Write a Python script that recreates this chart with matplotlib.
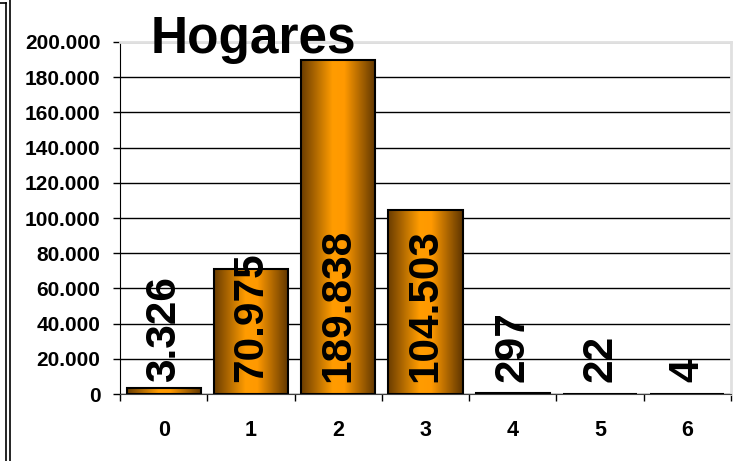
import numpy as np
import matplotlib
matplotlib.use("Agg")
import matplotlib.pyplot as plt
from matplotlib.lines import Line2D
from matplotlib.colors import LinearSegmentedColormap
from matplotlib.ticker import FuncFormatter, FixedLocator

categories = ["0", "1", "2", "3", "4", "5", "6"]
hogares = [3326, 70975, 189838, 104503, 297, 22, 4]
value_labels = ["3.326", "70.975", "189.838", "104.503", "297", "22", "4"]

plt.rcParams["font.family"] = ["Liberation Sans", "DejaVu Sans"]
plt.rcParams["font.weight"] = "bold"

fig = plt.figure(figsize=(7.45, 4.61), dpi=100)
ax = fig.add_axes([120 / 745, 1 - 394 / 461, 611 / 745, 352 / 461])

x = np.arange(len(categories))
bars = ax.bar(x, hogares, width=0.85, facecolor="none", edgecolor="black",
              linewidth=1.5, zorder=3)

# horizontal gradient inside each bar, dark edges -> orange middle
cmap = LinearSegmentedColormap.from_list(
    "bar", [(0, "#6a3c00"), (0.42, "#ff9c00"), (0.58, "#ff9900"), (1, "#5e3500")])
grad = np.linspace(0, 1, 256).reshape(1, -1)
for b in bars:
    x0, w, h = b.get_x(), b.get_width(), b.get_height()
    im = ax.imshow(grad, cmap=cmap, aspect="auto", extent=[x0, x0 + w, 0, h],
                   zorder=2.5, interpolation="bilinear")
    im.set_clip_path(b)

for xi, lab in zip(x, value_labels):
    ax.annotate(lab, (xi, 0), xytext=(0, 8.5), textcoords="offset points",
                rotation=90, ha="center", va="bottom", fontsize=30.5,
                fontweight="bold", zorder=4)

ax.set_xlim(-0.5, len(categories) - 0.5)
ax.set_ylim(0, 200000)
ax.set_yticks(np.arange(0, 200001, 20000))
ax.yaxis.set_major_formatter(FuncFormatter(lambda v, p: f"{int(v):,}".replace(",", ".")))
ax.yaxis.grid(True, color="black", linewidth=1)
ax.set_axisbelow(True)

ax.set_xticks(x)
ax.set_xticklabels(categories)
ax.xaxis.set_minor_locator(FixedLocator(np.arange(-0.5, len(categories), 1)))
ax.tick_params(axis="x", which="major", length=0, pad=19, labelsize=15.5)
ax.tick_params(axis="x", which="minor", length=5, width=1, color="black")
ax.tick_params(axis="y", length=5, width=1, pad=9, labelsize=15)

for s in ["top", "right"]:
    ax.spines[s].set_color("#e0e0e0")
    ax.spines[s].set_linewidth(2)
ax.spines["left"].set_color("black")
ax.spines["bottom"].set_color("#404040")

fig.text(253 / 745, 1 - 53 / 461, "Hogares", ha="center", va="baseline",
         fontsize=37, fontweight="bold")

# double frame line on the left edge
fig.add_artist(Line2D([6.5 / 745, 6.5 / 745], [0, 1 - 3 / 461], color="black", lw=1.2))
fig.add_artist(Line2D([10 / 745, 10 / 745], [0, 1], color="black", lw=1.2))
fig.add_artist(Line2D([0, 6.5 / 745], [1 - 3 / 461, 1 - 3 / 461], color="black", lw=1.2))

fig.savefig("out.png", dpi=100)
